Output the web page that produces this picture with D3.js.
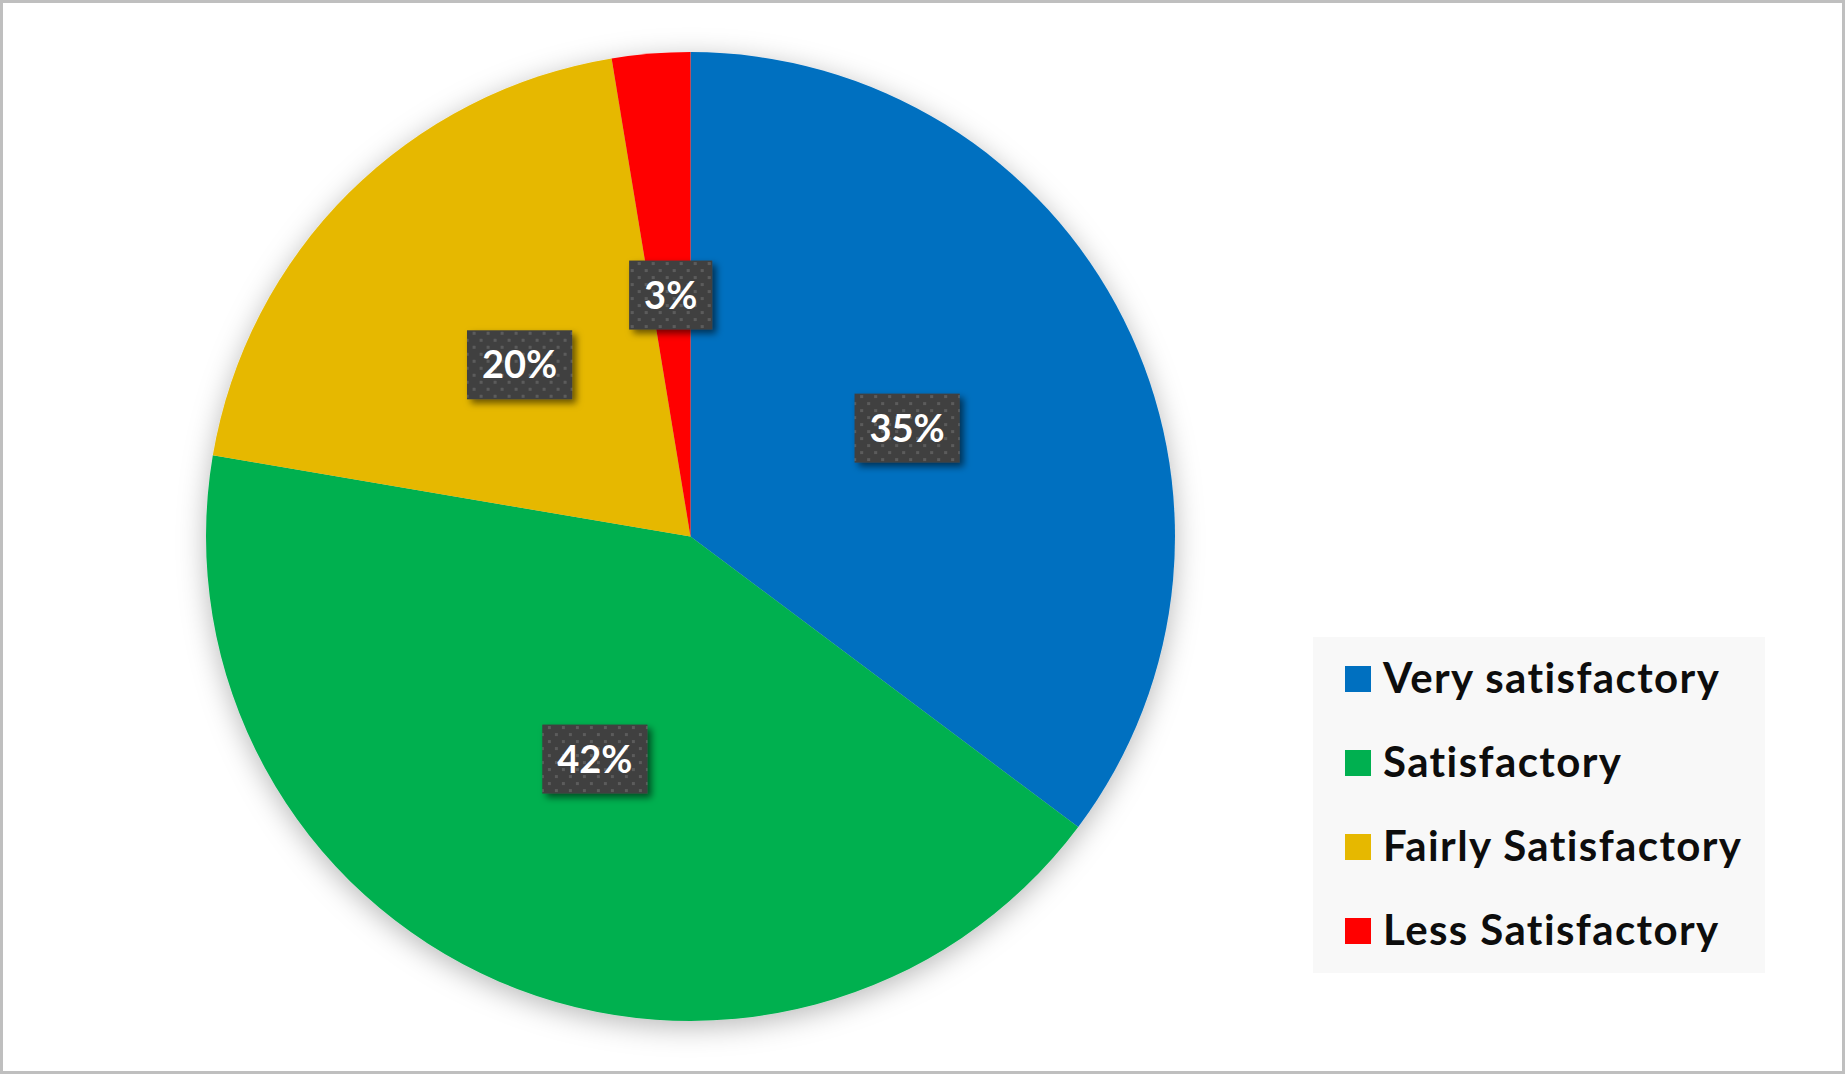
<!DOCTYPE html>
<html>
<head>
<meta charset="utf-8">
<script src="https://cdn.jsdelivr.net/npm/d3@7"></script>
<style>
  html, body { margin: 0; padding: 0; background: #fff; }
  svg { display: block; }
</style>
</head>
<body>
<svg id="chart" width="1845" height="1074"></svg>
<script>
const categories = ["Very satisfactory", "Satisfactory", "Fairly Satisfactory", "Less Satisfactory"];
const values = [35.2, 42.4, 19.7, 2.6];
const colors = ["#0070C0", "#00B050", "#E6B800", "#FF0000"];

const W = 1845, H = 1074;
const cx = 690.5, cy = 536.5, R = 484.5;

const svg = d3.select("#chart");
const defs = svg.append("defs");

const pieShadow = defs.append("filter").attr("id", "pieShadow")
  .attr("x", "-20%").attr("y", "-20%").attr("width", "140%").attr("height", "140%");
pieShadow.append("feDropShadow").attr("dx", 0).attr("dy", 6).attr("stdDeviation", 14)
  .attr("flood-color", "#000").attr("flood-opacity", 0.28);

const boxShadow = defs.append("filter").attr("id", "boxShadow")
  .attr("x", "-30%").attr("y", "-30%").attr("width", "160%").attr("height", "160%");
boxShadow.append("feDropShadow").attr("dx", 4).attr("dy", 4).attr("stdDeviation", 3.5)
  .attr("flood-color", "#000").attr("flood-opacity", 0.55);

const pat = defs.append("pattern").attr("id", "dots")
  .attr("patternUnits", "userSpaceOnUse").attr("width", 14).attr("height", 14);
pat.append("rect").attr("width", 14).attr("height", 14).attr("fill", "#404040");
pat.append("rect").attr("x", 2).attr("y", 2).attr("width", 3).attr("height", 3).attr("fill", "#5c5c5c");
pat.append("rect").attr("x", 9).attr("y", 9).attr("width", 3).attr("height", 3).attr("fill", "#5c5c5c");

// background + border
svg.append("rect").attr("x", 0).attr("y", 0).attr("width", W).attr("height", H).attr("fill", "#fff");
svg.append("rect").attr("x", 1.5).attr("y", 1.5).attr("width", W - 3).attr("height", H - 3)
  .attr("fill", "none").attr("stroke", "#BFBFBF").attr("stroke-width", 3);

const color = d3.scaleOrdinal().domain(categories).range(colors);
const total = d3.sum(values);
const data = categories.map((c, i) => ({ cat: c, value: values[i] }));

const pie = d3.pie().value(d => d.value).sort(null);
const arcs = pie(data);
const arc = d3.arc().innerRadius(0).outerRadius(R);

const g = svg.append("g").attr("transform", `translate(${cx},${cy})`);
g.append("g").attr("filter", "url(#pieShadow)")
  .selectAll("path").data(arcs).join("path")
  .attr("d", arc)
  .attr("fill", d => color(d.data.cat));

const fmt = d3.format(".0%");
const labels = g.selectAll("g.lbl").data(arcs).join("g").attr("class", "lbl")
  .attr("transform", d => `translate(${arc.centroid(d)})`);

labels.each(function(d) {
  const sel = d3.select(this);
  const t = sel.append("text")
    .attr("text-anchor", "middle")
    .attr("dy", "0.36em")
    .attr("font-family", "Lato, 'Open Sans', sans-serif")
    .attr("font-weight", "bold")
    .attr("font-size", 38)
    .attr("fill", "#fff")
    .text(fmt(d.data.value / total));
  const bb = t.node().getBBox();
  const padX = 15, h = 69;
  sel.insert("rect", "text")
    .attr("x", -bb.width / 2 - padX).attr("y", -h / 2)
    .attr("width", bb.width + 2 * padX).attr("height", h)
    .attr("fill", "url(#dots)")
    .attr("filter", "url(#boxShadow)");
});

// legend
const lg = svg.append("g");
lg.append("rect").attr("x", 1313).attr("y", 637).attr("width", 452).attr("height", 336).attr("fill", "#F8F8F8");
const ly = d3.scalePoint().domain(categories).range([679, 931]);
const items = lg.selectAll("g.item").data(categories).join("g").attr("class", "item")
  .attr("transform", d => `translate(1345,${ly(d)})`);
items.append("rect").attr("x", 0).attr("y", -13).attr("width", 26).attr("height", 26).attr("fill", d => color(d));
items.append("text").attr("x", 38).attr("y", 14)
  .attr("font-family", "Lato, 'Open Sans', sans-serif")
  .attr("font-weight", "bold")
  .attr("font-size", 42)
  .attr("letter-spacing", 1.4)
  .attr("fill", "#0D0D0D")
  .text(d => d);
</script>
</body>
</html>
